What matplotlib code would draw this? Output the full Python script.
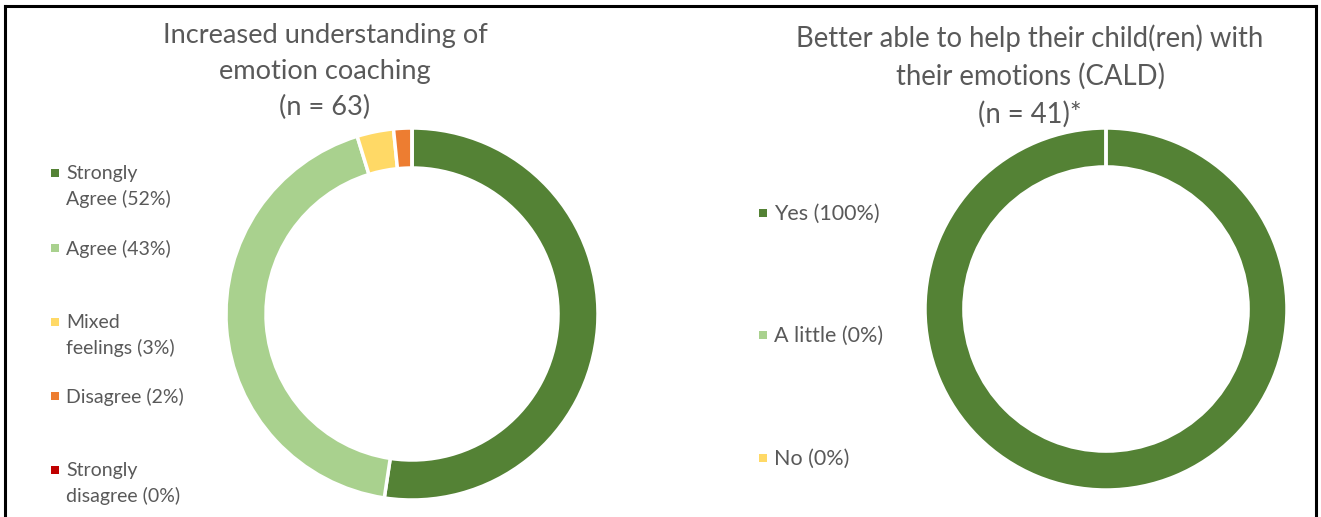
import matplotlib.pyplot as plt
from matplotlib.patches import Rectangle
from matplotlib.lines import Line2D

plt.rcParams['font.family'] = ['Lato', 'DejaVu Sans']

W, H = 1321, 517
TEXT = "#595959"

# left chart data
left_title = "Increased understanding of\nemotion coaching\n(n = 63)"
left_labels = ["Strongly\nAgree (52%)", "Agree (43%)", "Mixed\nfeelings (3%)",
               "Disagree (2%)", "Strongly\ndisagree (0%)"]
left_counts = [33, 27, 2, 1, 0]
left_colors = ["#548235", "#A9D18E", "#FFD966", "#ED7D31", "#C00000"]

# right chart data
right_title = "Better able to help their child(ren) with\ntheir emotions (CALD)\n(n = 41)*"
right_labels = ["Yes (100%)", "A little (0%)", "No (0%)"]
right_counts = [41, 0, 0]
right_colors = ["#548235", "#A9D18E", "#FFD966"]


def fx(px):
    return px / W


def fy(py):
    return 1 - py / H


def donut(fig, cx, cy, r, counts, colors):
    ax = fig.add_axes([fx(cx - r), fy(cy + r), 2 * r / W, 2 * r / H])
    wedges, _ = ax.pie(counts, colors=colors, startangle=90, counterclock=False,
                       radius=1, wedgeprops=dict(width=0.215, edgecolor="white",
                                                 linewidth=2.5))
    for w in wedges:
        w.set_clip_on(False)
    ax.set_xlim(-1, 1)
    ax.set_ylim(-1, 1)
    ax.axis("off")
    return ax


def legend(fig, x, ys, labels, colors, size):
    for y, lab, col in zip(ys, labels, colors):
        fig.add_artist(Rectangle((fx(x - 4), fy(y + 4)), 8 / W, 8 / H,
                                 transform=fig.transFigure, color=col, lw=0))
        fig.text(fx(x + 11), fy(y - 0.6 * size), lab, color=TEXT, fontsize=size,
                 va="top", ha="left", linespacing=1.58)


fig = plt.figure(figsize=(W / 100, H / 100), dpi=100)

donut(fig, 412, 314, 186, left_counts, left_colors)
donut(fig, 1106, 309, 181, right_counts, right_colors)

fig.text(fx(325), fy(23), left_title, ha="center", va="top", color=TEXT,
         fontsize=19.6, linespacing=1.55)
fig.text(fx(1030), fy(24), right_title, ha="center", va="top", color=TEXT,
         fontsize=19.8, linespacing=1.52)

legend(fig, 55, [173, 248, 322, 396, 470], left_labels, left_colors, 14)
legend(fig, 763, [213, 335, 458], right_labels, right_colors, 15.5)

# frame (left, top, right)
for xs, ys in [([5, 5], [517, 6]), ([5, 1316], [6, 6]), ([1316, 1316], [6, 517])]:
    fig.add_artist(Line2D([fx(v) for v in xs], [fy(v) for v in ys],
                          transform=fig.transFigure, color="black", lw=2.2))

fig.savefig("out.png", dpi=100)
